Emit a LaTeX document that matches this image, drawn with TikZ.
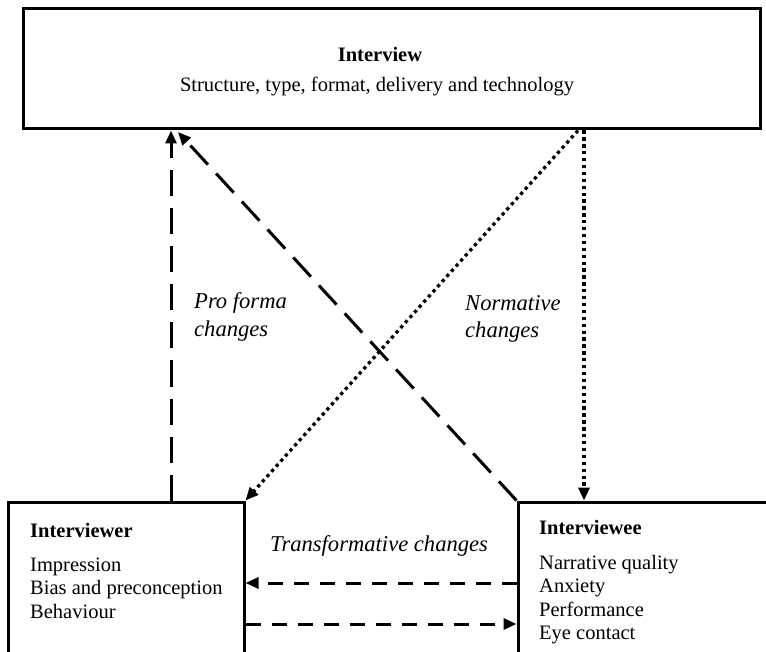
\documentclass[tikz,border=0pt]{standalone}
\usepackage{fontspec}
\setmainfont{Liberation Serif}
\usetikzlibrary{arrows.meta}
\begin{document}
\begin{tikzpicture}[x=1pt,y=-1pt,
  boxstyle/.style={draw, line width=3pt, inner sep=0pt},
  txt/.style={inner sep=0pt, font=\fontsize{20.5}{24}\selectfont},
  lbl/.style={inner sep=0pt, font=\fontsize{22.6}{27}\selectfont\itshape},
  >={Triangle[length=13pt,width=11pt]},
  longdash/.style={line width=3pt, dash pattern=on 26pt off 12pt, ->},
  shortdash/.style={line width=3pt, dash pattern=on 15pt off 11pt, ->},
  dotline/.style={line width=3.3pt, dash pattern=on 3.3pt off 3.6pt, ->}]
\useasboundingbox (0,0) rectangle (766,652);
\clip (0,0) rectangle (766,652);
% boxes
\node[boxstyle, minimum width=737pt, minimum height=120pt] (top) at (391.5,69) {};
\node[boxstyle, minimum width=236pt, minimum height=198pt] (ler) at (126,601) {};
\node[boxstyle, minimum width=282pt, minimum height=198pt] (lee) at (659,601) {};
% top texts
\node[txt, anchor=base] (t1) at (380,62) {\textbf{Interview}};
\node[txt, anchor=base] (t2) at (377,92) {Structure, type, format, delivery and technology};
% interviewer texts
\node[txt, anchor=base west] (r0) at (30,537) {\textbf{Interviewer}};
\node[txt, anchor=base west] (r1) at (30,571) {Impression};
\node[txt, anchor=base west] (r2) at (30,594.5) {Bias and preconception};
\node[txt, anchor=base west] (r3) at (30,618) {Behaviour};
% interviewee texts
\node[txt, anchor=base west] (e0) at (539,534) {\textbf{Interviewee}};
\node[txt, anchor=base west] (e1) at (539,569) {Narrative quality};
\node[txt, anchor=base west] (e2) at (539,592.5) {Anxiety};
\node[txt, anchor=base west] (e3) at (539,616) {Performance};
\node[txt, anchor=base west] (e4) at (539,639) {Eye contact};
% labels
\node[lbl, anchor=base west] (p1) at (194,309) {Pro forma};
\node[lbl, anchor=base west] (p2) at (194,337) {changes};
\node[lbl, anchor=base west] (n1) at (465,311) {Normative};
\node[lbl, anchor=base west] (n2) at (465,338) {changes};
\node[lbl, anchor=base west] (tr) at (270,551) {Transformative changes};
% connectors
\draw[longdash] (171,0 |- ler.north) -- (171,0 |- top.south);
\draw[longdash] (lee.north west) -- (178,132);
\draw[dotline] (578,0 |- top.south) -- (ler.north east);
\draw[dotline] (584,0 |- top.south) -- (584,0 |- lee.north);
\draw[shortdash] (lee.west |- 0,583) -- (ler.east |- 0,583);
\draw[shortdash] (ler.east |- 0,624) -- (lee.west |- 0,624);
\end{tikzpicture}
\end{document}
